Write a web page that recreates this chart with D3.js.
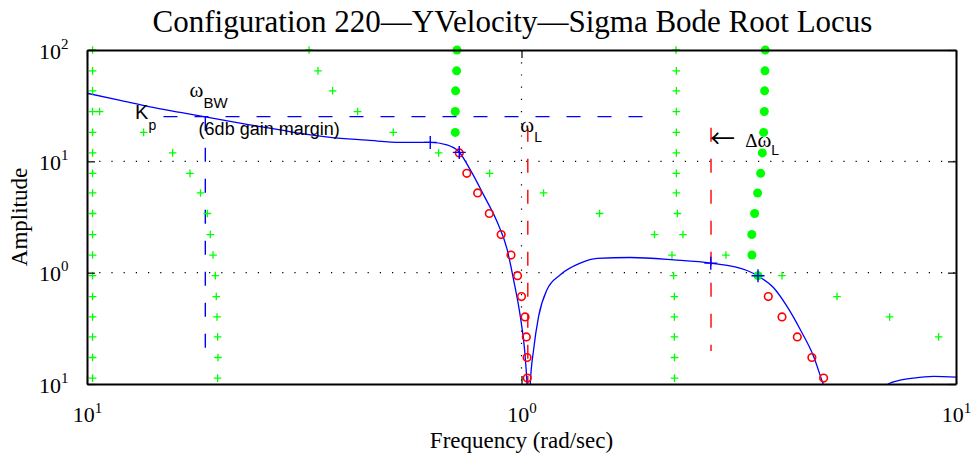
<!DOCTYPE html>
<html>
<head>
<meta charset="utf-8">
<script src="https://cdn.jsdelivr.net/npm/d3@7"></script>
<style>
  body { margin: 0; background: #fff; }
  svg { display: block; }
</style>
</head>
<body>
<svg id="chart" width="972" height="459"></svg>
<script>
// ---- Gain levels of the root-locus sweep (one row of markers per level) ----
const gainRows = [100, 65, 43, 28, 18.2, 11.9, 7.8, 5.2, 3.4, 2.2, 1.44, 0.94, 0.61, 0.40, 0.265, 0.173, 0.113];

// Pole frequencies (rad/sec) per gain level; null = no marker at that level
const plusBranchA = [0.103, 0.103, 0.103, 0.103, 0.103, 0.103, 0.103, 0.103, 0.103, 0.103, 0.103, 0.103, 0.103, 0.103, 0.103, 0.103, 0.103];
const plusBranchB = [null, null, null, 0.1069, 0.1350, 0.1574, 0.1726, 0.1825, 0.1892, 0.1922, 0.1950, 0.1974, 0.1984, 0.1992, 0.1998, 0.2002, 0.1998];
const plusBranchC = [2.268, 2.272, 2.272, 2.272, 2.272, 2.272, 2.272, 2.272, 2.284, 2.353, 2.220, 2.239, 2.248, 2.248, 2.248, 2.250, 2.250];
const plusBranchD = [0.3244, 0.3401, 0.3675, 0.4196, 0.5069, 0.6445, 0.8445, 1.124, 1.512, 2.024, 2.955, 3.977, 5.322, 7.035, 9.12, null, null];
const dotBranchE  = [0.7105, 0.7092, 0.7052, 0.7040, 0.7040, null, null, null, null, null, null, null, null, null, null, null, null];
const dotBranchF  = [3.640, 3.634, 3.627, 3.621, 3.608, 3.583, 3.551, 3.495, 3.440, 3.389, 3.391, 3.502, null, null, null, null, null];
const ringBranchG = [null, null, null, null, null, 0.7191, 0.7484, 0.7926, 0.8432, 0.8977, 0.9458, 0.9794, 1.000, 1.019, 1.026, 1.030, 1.031];
const ringBranchH = [null, null, null, null, null, null, null, null, null, null, null, null, 3.698, 3.977, 4.313, 4.659, 4.958];

// ---- Open-loop amplitude response ----
const magFreq = [0.1000, 0.1193, 0.1398, 0.1639, 0.1872, 0.2334, 0.2786, 0.3097, 0.3631, 0.4410, 0.5262, 0.6166, 0.6738, 0.7191, 0.7625, 0.8180, 0.8782, 0.9260, 0.9590, 0.9937, 1.0165, 1.0296, 1.0394, 1.0477, 1.0662, 1.0949, 1.1446, 1.2283, 1.3656, 1.4920, 1.7800, 2.239, 2.727, 3.304, 3.502, 3.804, 4.084, 4.383, 4.703, 4.943, 5.866, 6.998, 7.445, 7.988, 8.880, 10.0];
const magAmp  = [40.88, 35.23, 30.80, 27.49, 25.04, 21.45, 19.15, 17.81, 16.40, 15.51, 14.79, 14.79, 14.04, 12.08, 8.38, 4.996, 2.878, 1.637, 0.8630, 0.4043, 0.2031, 0.1006, 0.0389, 0.1006, 0.2031, 0.4043, 0.7018, 0.9567, 1.218, 1.346, 1.368, 1.304, 1.218, 1.046, 0.933, 0.7313, 0.4970, 0.3071, 0.1768, 0.1006, 0.03, 0.1006, 0.1081, 0.1131, 0.1170, 0.1155];

// Operating points marked on the response
const crossFreq = [0.6166, 0.7191, 2.727, 3.502];
const crossAmp  = [14.79, 12.03, 1.218, 0.937];

// Reference levels / frequencies
const kpGain = 25.2, kpFreqFrom = 0.150, kpFreqTo = 1.94;
const bwFreq = 0.1872, bwAmpLow = 0.199;
const wLFreq = 1.034, wLAmpTop = 20;
const dwLFreq = 2.73, dwLAmpTop = 20, dwLAmpLow = 0.198;

// Axis ticks: base and exponent as printed
const xTicks = [0.1, 1, 10];
const xTickExp = ["1", "0", "1"];
const yTicks = [0.1, 1, 10, 100];
const yTickExp = ["1", "0", "1", "2"];
const xGrid = [1];
const yGrid = [1, 10];

const titleText = "Configuration 220\u2014YVelocity\u2014Sigma Bode Root Locus";
const xLabelText = "Frequency (rad/sec)";
const yLabelText = "Amplitude";

// ---- Layout ----
const L = 87, R = 956, T = 50, B = 384;
const serif = "'Liberation Serif','Times New Roman',Times,serif";
const sans = "'Liberation Sans',Arial,Helvetica,sans-serif";
const BLUE = "#0000ff", RED = "#ff0000", GREEN = "#00ff00";

const svg = d3.select("#chart");
const x = d3.scaleLog().domain([0.1, 10]).range([L, R]);
const y = d3.scaleLog().domain([0.1, 100]).range([B, T]);

svg.append("defs").append("clipPath").attr("id", "plotClip")
  .append("rect").attr("x", L).attr("y", T).attr("width", R - L).attr("height", B - T);

// Dotted major grid
const grid = svg.append("g").attr("stroke", "#000").attr("stroke-width", 1.2)
  .attr("stroke-dasharray", "1.2,11");
grid.selectAll(".gx").data(xGrid).join("line")
  .attr("x1", d => x(d)).attr("x2", d => x(d)).attr("y1", T).attr("y2", B);
grid.selectAll(".gy").data(yGrid).join("line")
  .attr("y1", d => y(d)).attr("y2", d => y(d)).attr("x1", L).attr("x2", R);

// Dashed reference lines
const dash = "14,17";
const refs = svg.append("g").attr("fill", "none").attr("stroke-width", 1.4).attr("stroke-dasharray", dash);
refs.append("line").attr("stroke", BLUE)
  .attr("x1", x(kpFreqFrom)).attr("x2", x(kpFreqTo)).attr("y1", y(kpGain)).attr("y2", y(kpGain));
refs.append("line").attr("stroke", BLUE)
  .attr("x1", x(bwFreq)).attr("x2", x(bwFreq)).attr("y1", y(kpGain)).attr("y2", y(bwAmpLow));
refs.append("line").attr("stroke", RED)
  .attr("x1", x(wLFreq)).attr("x2", x(wLFreq)).attr("y1", y(wLAmpTop)).attr("y2", y(0.1));
refs.append("line").attr("stroke", RED)
  .attr("x1", x(dwLFreq)).attr("x2", x(dwLFreq)).attr("y1", y(dwLAmpTop)).attr("y2", y(dwLAmpLow));

// Amplitude response curve
const magData = magFreq.map((f, i) => [f, magAmp[i]]);
svg.append("path").datum(magData)
  .attr("clip-path", "url(#plotClip)")
  .attr("fill", "none").attr("stroke", BLUE).attr("stroke-width", 1.3)
  .attr("d", d3.line().x(d => x(d[0])).y(d => y(d[1])).curve(d3.curveMonotoneX));

// Root-locus markers
function rows(branch) {
  return branch.map((f, i) => f == null ? null : [f, gainRows[i]]).filter(d => d);
}
const plusPath = "M-3.8,0H3.8M0,-3.8V3.8";
[plusBranchA, plusBranchB, plusBranchC, plusBranchD].forEach(br => {
  svg.append("g").selectAll("path").data(rows(br)).join("path")
    .attr("d", plusPath).attr("transform", d => `translate(${x(d[0])},${y(d[1])})`)
    .attr("stroke", GREEN).attr("stroke-width", 1.3).attr("fill", "none");
});
[dotBranchE, dotBranchF].forEach(br => {
  svg.append("g").selectAll("circle").data(rows(br)).join("circle")
    .attr("cx", d => x(d[0])).attr("cy", d => y(d[1])).attr("r", 4.5).attr("fill", GREEN);
});
[ringBranchG, ringBranchH].forEach(br => {
  svg.append("g").selectAll("circle").data(rows(br)).join("circle")
    .attr("cx", d => x(d[0])).attr("cy", d => y(d[1])).attr("r", 3.8)
    .attr("fill", "none").attr("stroke", RED).attr("stroke-width", 1.6);
});

// Operating-point crosses
svg.append("g").selectAll("path").data(crossFreq.map((f, i) => [f, crossAmp[i]])).join("path")
  .attr("d", "M-6.5,0H6.5M0,-6.5V6.5")
  .attr("transform", d => `translate(${x(d[0])},${y(d[1])})`)
  .attr("stroke", BLUE).attr("stroke-width", 1.4).attr("fill", "none");

// Annotations
const ann = svg.append("g").attr("fill", "#000");
const kp = ann.append("text").attr("x", x(0.1290)).attr("y", y(kpGain) + 2.6).attr("font-family", sans).attr("font-size", 20);
kp.append("tspan").text("K");
kp.append("tspan").attr("font-size", 14).attr("dy", 10.7).text("p");

const bw = ann.append("text").attr("x", x(bwFreq) - 15.7).attr("y", 96.7);
bw.append("tspan").attr("font-family", serif).attr("font-size", 21).text("\u03c9");
bw.append("tspan").attr("font-family", sans).attr("font-size", 15).attr("dy", 11.6).text("BW");

ann.append("text").attr("x", x(bwFreq) - 6.7).attr("y", 135)
  .attr("font-family", sans).attr("font-size", 18).text("(6db gain margin)");

const wl = ann.append("text").attr("x", x(wLFreq) - 7.5).attr("y", 131.7);
wl.append("tspan").attr("font-family", serif).attr("font-size", 21).text("\u03c9");
wl.append("tspan").attr("font-family", sans).attr("font-size", 14).attr("dy", 10).text("L");

ann.append("text").attr("x", x(dwLFreq) - 1).attr("y", 147.5)
  .attr("font-family", "'Noto Sans CJK JP','Noto Sans CJK SC',sans-serif").attr("font-size", 25).text("\u2190");
const dwl = ann.append("text").attr("x", x(dwLFreq) + 34.3).attr("y", 146.7);
dwl.append("tspan").attr("font-family", serif).attr("font-size", 19).text("\u0394");
dwl.append("tspan").attr("font-family", serif).attr("font-size", 21).text("\u03c9");
dwl.append("tspan").attr("font-family", sans).attr("font-size", 14).attr("dy", 8.3).text("L");

// Axes with inward ticks and a full box
function styleAxis(g) {
  g.select(".domain").attr("stroke", "#000").attr("stroke-width", 2);
  g.selectAll(".tick line").attr("stroke", "#000").attr("stroke-width", 1.2);
}
const axB = svg.append("g").attr("transform", `translate(0,${B})`)
  .call(d3.axisBottom(x).tickValues(xTicks).tickSizeInner(-8).tickSizeOuter(0).tickFormat(""));
const axT = svg.append("g").attr("transform", `translate(0,${T})`)
  .call(d3.axisTop(x).tickValues(xTicks).tickSizeInner(-8).tickSizeOuter(0).tickFormat(""));
const axL = svg.append("g").attr("transform", `translate(${L},0)`)
  .call(d3.axisLeft(y).tickValues(yTicks).tickSizeInner(-8).tickSizeOuter(0).tickFormat(""));
const axR = svg.append("g").attr("transform", `translate(${R},0)`)
  .call(d3.axisRight(y).tickValues(yTicks).tickSizeInner(-8).tickSizeOuter(0).tickFormat(""));
[axB, axT, axL, axR].forEach(styleAxis);

// Tick labels as 10 with a superscript exponent
axB.selectAll(".tick text").each(function (d) {
  const t = d3.select(this).attr("y", 37.7).attr("dy", null)
    .attr("font-family", serif).attr("font-size", 22).attr("fill", "#000").attr("text-anchor", "middle");
  t.append("tspan").text("10");
  t.append("tspan").attr("font-size", 15).attr("dy", -9).text(xTickExp[xTicks.indexOf(d)]);
});
axL.selectAll(".tick text").each(function (d) {
  const t = d3.select(this).attr("x", -18.5).attr("y", 8.3).attr("dy", null)
    .attr("font-family", serif).attr("font-size", 22).attr("fill", "#000").attr("text-anchor", "end");
  t.append("tspan").text("10");
  t.append("tspan").attr("font-size", 15).attr("dy", -10).text(yTickExp[yTicks.indexOf(d)]);
});
axT.selectAll(".tick text").remove();
axR.selectAll(".tick text").remove();

// Title and axis labels
svg.append("text").attr("x", 512.5).attr("y", 31.5).attr("text-anchor", "middle")
  .attr("font-family", serif).attr("font-size", 31).text(titleText);
svg.append("text").attr("x", (L + R) / 2).attr("y", 448).attr("text-anchor", "middle")
  .attr("font-family", serif).attr("font-size", 23).text(xLabelText);
svg.append("text").attr("transform", `translate(27,${(T + B) / 2}) rotate(-90)`).attr("text-anchor", "middle")
  .attr("font-family", serif).attr("font-size", 23).text(yLabelText);
</script>
</body>
</html>
